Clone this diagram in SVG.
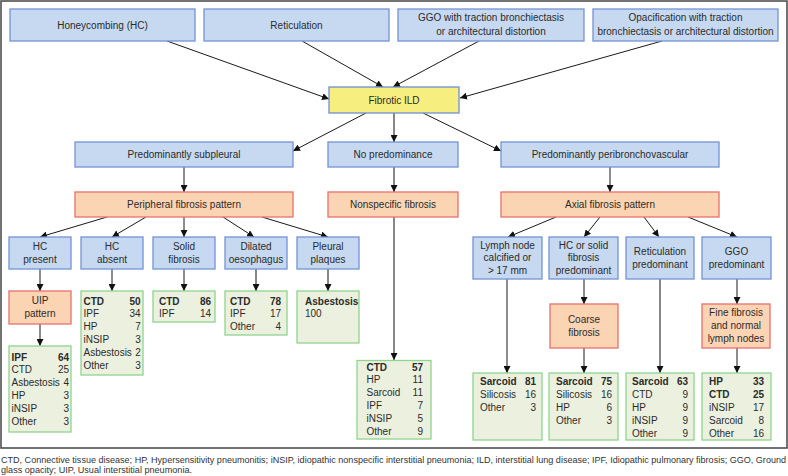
<svg xmlns="http://www.w3.org/2000/svg" width="788" height="476" viewBox="0 0 788 476">
<style>
text{font-family:"Liberation Sans",Arial,sans-serif;font-size:10px;fill:#2b2b2b}
.c{text-anchor:middle}
.r{text-anchor:end}
.bd{font-weight:bold}
.b{fill:#c6d9f0;stroke:#7393d3;stroke-width:1.3}
.y{fill:#f6ee7e;stroke:#6f8fd0;stroke-width:1.3}
.o{fill:#fbd4b4;stroke:#e6716d;stroke-width:1.3}
.g{fill:#ebf1de;stroke:#8fd48f;stroke-width:1.3}
.l{stroke:#1a1a1a;stroke-width:1;fill:none}
.lg{stroke:#7a7a7a;stroke-width:1.8;fill:none}
.f{font-size:9px;fill:#333}
</style>
<defs>
<marker id="a" viewBox="0 0 10 10" refX="10" refY="5" markerWidth="7" markerHeight="7" markerUnits="userSpaceOnUse" orient="auto">
<path d="M0,0 L10,5 L0,10 z" fill="#111"/>
</marker>
</defs>
<rect x="1" y="1" width="786" height="447" fill="#fff" stroke="#444" stroke-width="1.5"/>

<g id="connectors">
<line class="l" x1="167" y1="41" x2="329" y2="99" marker-end="url(#a)"/>
<line class="l" x1="302" y1="41" x2="383" y2="87" marker-end="url(#a)"/>
<line class="l" x1="479" y1="41" x2="393" y2="87" marker-end="url(#a)"/>
<line class="l" x1="662" y1="41" x2="460" y2="98" marker-end="url(#a)"/>
<line class="l" x1="366" y1="113" x2="293" y2="151" marker-end="url(#a)"/>
<line class="lg" x1="394" y1="113" x2="394" y2="142" marker-end="url(#a)"/>
<line class="l" x1="423" y1="113" x2="501" y2="151" marker-end="url(#a)"/>
<line class="l" x1="184" y1="167" x2="184" y2="192" marker-end="url(#a)"/>
<line class="lg" x1="394" y1="167" x2="394" y2="192" marker-end="url(#a)"/>
<line class="l" x1="610" y1="167" x2="610" y2="192" marker-end="url(#a)"/>
<line class="l" x1="107" y1="217" x2="40" y2="237" marker-end="url(#a)"/>
<line class="l" x1="146" y1="217" x2="112" y2="237" marker-end="url(#a)"/>
<line class="l" x1="184" y1="217" x2="184" y2="237" marker-end="url(#a)"/>
<line class="l" x1="223" y1="217" x2="254" y2="237" marker-end="url(#a)"/>
<line class="l" x1="262" y1="217" x2="328" y2="237" marker-end="url(#a)"/>
<line class="l" x1="556" y1="217" x2="508" y2="237" marker-end="url(#a)"/>
<line class="l" x1="600" y1="217" x2="584" y2="237" marker-end="url(#a)"/>
<line class="l" x1="644" y1="217" x2="659" y2="237" marker-end="url(#a)"/>
<line class="l" x1="688" y1="217" x2="737" y2="237" marker-end="url(#a)"/>
<line class="l" x1="40" y1="269" x2="40" y2="291" marker-end="url(#a)"/>
<line class="l" x1="40" y1="324" x2="40" y2="346" marker-end="url(#a)"/>
<line class="l" x1="112" y1="269" x2="112" y2="291" marker-end="url(#a)"/>
<line class="l" x1="184" y1="269" x2="184" y2="291" marker-end="url(#a)"/>
<line class="lg" x1="256" y1="269" x2="256" y2="291" marker-end="url(#a)"/>
<line class="lg" x1="328" y1="269" x2="328" y2="291" marker-end="url(#a)"/>
<line class="lg" x1="394" y1="217" x2="394" y2="360" marker-end="url(#a)"/>
<line class="l" x1="507" y1="279" x2="507" y2="373" marker-end="url(#a)"/>
<line class="l" x1="584" y1="279" x2="584" y2="304" marker-end="url(#a)"/>
<line class="l" x1="584" y1="348" x2="584" y2="373" marker-end="url(#a)"/>
<line class="lg" x1="660" y1="279" x2="660" y2="373" marker-end="url(#a)"/>
<line class="l" x1="737" y1="279" x2="737" y2="304" marker-end="url(#a)"/>
<line class="l" x1="737" y1="348" x2="737" y2="373" marker-end="url(#a)"/>
</g>

<g id="n-honeycombing"><rect class="b" x="10" y="9" width="185" height="32"/><text class="c" x="102.5" y="28.5">Honeycombing (HC)</text></g>
<g id="n-reticulation"><rect class="b" x="204" y="9" width="185" height="32"/><text class="c" x="296.5" y="28.5">Reticulation</text></g>
<g id="n-ggo"><rect class="b" x="398" y="9" width="186" height="32"/><text class="c" x="491" y="21">GGO with traction bronchiectasis</text><text class="c" x="491" y="34.5">or architectural distortion</text></g>
<g id="n-opac"><rect class="b" x="593" y="9" width="185" height="32"/><text class="c" x="685.5" y="21">Opacification with traction</text><text class="c" x="685.5" y="34.5">bronchiectasis or architectural distortion</text></g>

<g id="n-fibrotic"><rect class="y" x="329" y="87" width="130" height="26"/><text class="c" x="394" y="103.5">Fibrotic ILD</text></g>

<g id="n-subpleural"><rect class="b" x="75" y="142" width="218" height="25"/><text class="c" x="184" y="157.5">Predominantly subpleural</text></g>
<g id="n-nopred"><rect class="b" x="328" y="142" width="130" height="25"/><text class="c" x="393" y="157.5">No predominance</text></g>
<g id="n-peri"><rect class="b" x="501" y="142" width="218" height="25"/><text class="c" x="610" y="157.5">Predominantly peribronchovascular</text></g>

<g id="n-peripheral"><rect class="o" x="75" y="192" width="218" height="25"/><text class="c" x="184" y="207.5">Peripheral fibrosis pattern</text></g>
<g id="n-nonspecific"><rect class="o" x="328" y="192" width="130" height="25"/><text class="c" x="393" y="207.5">Nonspecific fibrosis</text></g>
<g id="n-axial"><rect class="o" x="501" y="192" width="218" height="25"/><text class="c" x="610" y="207.5">Axial fibrosis pattern</text></g>

<g id="n-hcpresent"><rect class="b" x="9" y="237" width="62" height="32"/><text class="c" x="40" y="250">HC</text><text class="c" x="40" y="262.5">present</text></g>
<g id="n-hcabsent"><rect class="b" x="81" y="237" width="62" height="32"/><text class="c" x="112" y="250">HC</text><text class="c" x="112" y="262.5">absent</text></g>
<g id="n-solid"><rect class="b" x="153" y="237" width="62" height="32"/><text class="c" x="184" y="250">Solid</text><text class="c" x="184" y="262.5">fibrosis</text></g>
<g id="n-dilated"><rect class="b" x="225" y="237" width="62" height="32"/><text class="c" x="256" y="250">Dilated</text><text class="c" x="256" y="262.5">oesophagus</text></g>
<g id="n-pleural"><rect class="b" x="297" y="237" width="62" height="32"/><text class="c" x="328" y="250">Pleural</text><text class="c" x="328" y="262.5">plaques</text></g>

<g id="n-lymph"><rect class="b" x="473" y="237" width="69" height="42"/><text class="c" x="507.5" y="248.5">Lymph node</text><text class="c" x="507.5" y="261">calcified or</text><text class="c" x="507.5" y="274">&gt; 17 mm</text></g>
<g id="n-hcsolid"><rect class="b" x="549" y="237" width="69" height="42"/><text class="c" x="583.5" y="248.5">HC or solid</text><text class="c" x="583.5" y="261">fibrosis</text><text class="c" x="583.5" y="274">predominant</text></g>
<g id="n-retpred"><rect class="b" x="626" y="237" width="68" height="42"/><text class="c" x="660" y="254.5">Reticulation</text><text class="c" x="660" y="267.5">predominant</text></g>
<g id="n-ggopred"><rect class="b" x="702" y="237" width="69" height="42"/><text class="c" x="736.5" y="254.5">GGO</text><text class="c" x="736.5" y="267.5">predominant</text></g>

<g id="n-uip"><rect class="o" x="9" y="291" width="62" height="33"/><text class="c" x="40" y="304">UIP</text><text class="c" x="40" y="317">pattern</text></g>
<g id="n-coarse"><rect class="o" x="550" y="304" width="68" height="44"/><text class="c" x="584" y="323">Coarse</text><text class="c" x="584" y="335.5">fibrosis</text></g>
<g id="n-fine"><rect class="o" x="702" y="304" width="68" height="44"/><text class="c" x="736" y="316">Fine fibrosis</text><text class="c" x="736" y="329">and normal</text><text class="c" x="736" y="342">lymph nodes</text></g>

<g id="r-uip"><rect class="g" x="9" y="346" width="62" height="86"/>
<text class="bd" x="11.5" y="360.5">IPF</text><text class="r bd" x="69" y="360.5">64</text>
<text x="11.5" y="373.3">CTD</text><text class="r" x="69" y="373.3">25</text>
<text x="11.5" y="386.1">Asbestosis</text><text class="r" x="69" y="386.1">4</text>
<text x="11.5" y="398.9">HP</text><text class="r" x="69" y="398.9">3</text>
<text x="11.5" y="411.7">iNSIP</text><text class="r" x="69" y="411.7">3</text>
<text x="11.5" y="424.5">Other</text><text class="r" x="69" y="424.5">3</text></g>

<g id="r-hcabsent"><rect class="g" x="81" y="291" width="62" height="84"/>
<text class="bd" x="83.5" y="304.5">CTD</text><text class="r bd" x="140.7" y="304.5">50</text>
<text x="83.5" y="317.3">IPF</text><text class="r" x="140.7" y="317.3">34</text>
<text x="83.5" y="330.1">HP</text><text class="r" x="140.7" y="330.1">7</text>
<text x="83.5" y="342.9">iNSIP</text><text class="r" x="140.7" y="342.9">3</text>
<text x="83.5" y="355.7">Asbestosis</text><text class="r" x="140.7" y="355.7">2</text>
<text x="83.5" y="368.5">Other</text><text class="r" x="140.7" y="368.5">3</text></g>

<g id="r-solid"><rect class="g" x="153" y="291" width="62" height="31"/>
<text class="bd" x="159" y="304.5">CTD</text><text class="r bd" x="211" y="304.5">86</text>
<text x="159" y="317.3">IPF</text><text class="r" x="211" y="317.3">14</text></g>

<g id="r-dilated"><rect class="g" x="225" y="291" width="62" height="44"/>
<text class="bd" x="230" y="304.5">CTD</text><text class="r bd" x="281" y="304.5">78</text>
<text x="230" y="317.3">IPF</text><text class="r" x="281" y="317.3">17</text>
<text x="230" y="330.1">Other</text><text class="r" x="281" y="330.1">4</text></g>

<g id="r-pleural"><rect class="g" x="297" y="291" width="62" height="52"/>
<text class="bd" x="305" y="304.5">Asbestosis</text>
<text x="305" y="317.3">100</text></g>

<g id="r-nonspecific"><rect class="g" x="357" y="360.5" width="74" height="78.5"/>
<text class="bd" x="366.5" y="370.5">CTD</text><text class="r bd" x="423" y="370.5">57</text>
<text x="366.5" y="383.4">HP</text><text class="r" x="423" y="383.4">11</text>
<text x="366.5" y="396.3">Sarcoid</text><text class="r" x="423" y="396.3">11</text>
<text x="366.5" y="409.2">IPF</text><text class="r" x="423" y="409.2">7</text>
<text x="366.5" y="422.1">iNSIP</text><text class="r" x="423" y="422.1">5</text>
<text x="366.5" y="435">Other</text><text class="r" x="423" y="435">9</text></g>

<g id="r-lymph"><rect class="g" x="473" y="373" width="69" height="67"/>
<text class="bd" x="480" y="384.5">Sarcoid</text><text class="r bd" x="536" y="384.5">81</text>
<text x="480" y="397.5">Silicosis</text><text class="r" x="536" y="397.5">16</text>
<text x="480" y="410.5">Other</text><text class="r" x="536" y="410.5">3</text></g>

<g id="r-coarse"><rect class="g" x="549" y="373" width="69" height="67"/>
<text class="bd" x="556" y="384.5">Sarcoid</text><text class="r bd" x="612" y="384.5">75</text>
<text x="556" y="397.5">Silicosis</text><text class="r" x="612" y="397.5">16</text>
<text x="556" y="410.5">HP</text><text class="r" x="612" y="410.5">6</text>
<text x="556" y="423.5">Other</text><text class="r" x="612" y="423.5">3</text></g>

<g id="r-retpred"><rect class="g" x="626" y="373" width="68" height="67"/>
<text class="bd" x="632" y="384.5">Sarcoid</text><text class="r bd" x="688" y="384.5">63</text>
<text x="632" y="397.5">CTD</text><text class="r" x="688" y="397.5">9</text>
<text x="632" y="410.5">HP</text><text class="r" x="688" y="410.5">9</text>
<text x="632" y="423.5">iNSIP</text><text class="r" x="688" y="423.5">9</text>
<text x="632" y="436.5">Other</text><text class="r" x="688" y="436.5">9</text></g>

<g id="r-ggopred"><rect class="g" x="702" y="373" width="69" height="67"/>
<text class="bd" x="709" y="384.5">HP</text><text class="r bd" x="764" y="384.5">33</text>
<text class="bd" x="709" y="397.5">CTD</text><text class="r bd" x="764" y="397.5">25</text>
<text x="709" y="410.5">iNSIP</text><text class="r" x="764" y="410.5">17</text>
<text x="709" y="423.5">Sarcoid</text><text class="r" x="764" y="423.5">8</text>
<text x="709" y="436.5">Other</text><text class="r" x="764" y="436.5">16</text></g>

<g id="footer">
<text class="f" x="1" y="463" textLength="785" lengthAdjust="spacingAndGlyphs">CTD, Connective tissue disease; HP, Hypersensitivity pneumonitis; iNSIP, idiopathic nonspecific interstitial pneumonia; ILD, interstitial lung disease; IPF, Idiopathic pulmonary fibrosis; GGO, Ground</text>
<text class="f" x="1" y="473" textLength="191" lengthAdjust="spacingAndGlyphs">glass opacity; UIP, Usual interstitial pneumonia.</text>
</g>
</svg>
